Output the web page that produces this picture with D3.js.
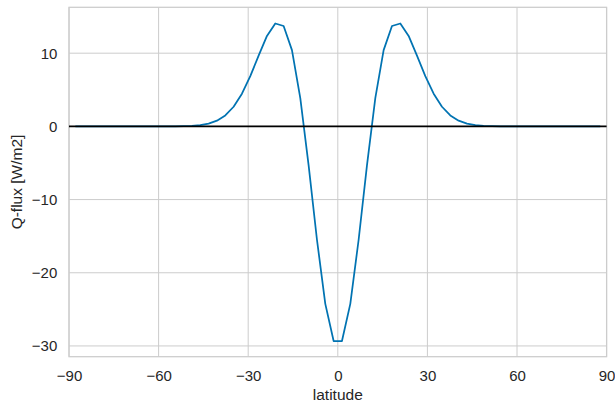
<!DOCTYPE html>
<html>
<head>
<meta charset="utf-8">
<script src="https://cdn.jsdelivr.net/npm/d3@7"></script>
<style>
  body { margin: 0; background: #fff; }
  svg text { font-family: "Liberation Sans", Arial, sans-serif; fill: #262626; }
</style>
</head>
<body>
<svg id="chart" width="615" height="407"></svg>
<script>
// gaussian latitudes (T42), south to north
var latitudes = [
  -87.8638, -85.0965, -82.3129, -79.5256, -76.7369, -73.9475, -71.1578, -68.3678,
  -65.5776, -62.7874, -59.9970, -57.2066, -54.4162, -51.6257, -48.8352, -46.0447,
  -43.2542, -40.4636, -37.6731, -34.8825, -32.0919, -29.3014, -26.5108, -23.7202,
  -20.9296, -18.1390, -15.3484, -12.5578, -9.7671, -6.9765, -4.1859, -1.3953,
  1.3953, 4.1859, 6.9765, 9.7671, 12.5578, 15.3484, 18.1390, 20.9296,
  23.7202, 26.5108, 29.3014, 32.0919, 34.8825, 37.6731, 40.4636, 43.2542,
  46.0447, 48.8352, 51.6257, 54.4162, 57.2066, 59.9970, 62.7874, 65.5776,
  68.3678, 71.1578, 73.9475, 76.7369, 79.5256, 82.3129, 85.0965, 87.8638
];

var qflux = [
  0, 0, 0, 0, 0, 0, 0, 0,
  0, 0, 0.00, 0.00, 0.01, 0.03, 0.07, 0.17,
  0.38, 0.78, 1.50, 2.68, 4.46, 6.86, 9.67, 12.36,
  14.06, 13.71, 10.42, 3.85, -5.34, -15.49, -24.25, -29.33,
  -29.33, -24.25, -15.49, -5.34, 3.85, 10.42, 13.71, 14.06,
  12.36, 9.67, 6.86, 4.46, 2.68, 1.50, 0.78, 0.38,
  0.17, 0.07, 0.03, 0.01, 0.00, 0.00, 0, 0,
  0, 0, 0, 0, 0, 0, 0, 0
];

var xTicks = [-90, -60, -30, 0, 30, 60, 90];
var yTicks = [-30, -20, -10, 0, 10];
var xDomain = [-90, 90];
var yDomain = [-31.47, 16.27];

var svg = d3.select("#chart");
var plotL = 69, plotR = 606.6, plotT = 7.3, plotB = 356.7;

var x = d3.scaleLinear().domain(xDomain).range([plotL, plotR]);
var y = d3.scaleLinear().domain(yDomain).range([plotB, plotT]);

// grid
svg.append("g").selectAll("line").data(xTicks).enter().append("line")
    .attr("x1", function(d) { return x(d); }).attr("x2", function(d) { return x(d); })
    .attr("y1", plotT).attr("y2", plotB)
    .attr("stroke", "#cccccc").attr("stroke-width", 1);
svg.append("g").selectAll("line").data(yTicks).enter().append("line")
    .attr("x1", plotL).attr("x2", plotR)
    .attr("y1", function(d) { return y(d); }).attr("y2", function(d) { return y(d); })
    .attr("stroke", "#cccccc").attr("stroke-width", 1);

// frame
svg.append("rect")
    .attr("x", plotL).attr("y", plotT)
    .attr("width", plotR - plotL).attr("height", plotB - plotT)
    .attr("fill", "none").attr("stroke", "#cccccc").attr("stroke-width", 1.25);

// axes (labels only)
var xAxis = d3.axisBottom(x).tickValues(xTicks).tickSize(0).tickPadding(13.5)
    .tickFormat(d3.format("d"));
var gx = svg.append("g").attr("transform", "translate(0," + plotB + ")").call(xAxis);
gx.select(".domain").remove();
gx.selectAll("text").attr("font-size", 15).style("fill", "#262626")
    .attr("font-family", "Liberation Sans, Arial, sans-serif");

var yAxis = d3.axisLeft(y).tickValues(yTicks).tickSize(0).tickPadding(11.7)
    .tickFormat(d3.format("d"));
var gy = svg.append("g").attr("transform", "translate(" + plotL + ",0)").call(yAxis);
gy.select(".domain").remove();
gy.selectAll("text").attr("font-size", 15).style("fill", "#262626")
    .attr("font-family", "Liberation Sans, Arial, sans-serif");

// series
var line = d3.line()
    .x(function(d, i) { return x(latitudes[i]); })
    .y(function(d) { return y(d); });

svg.append("path").datum(qflux)
    .attr("d", line)
    .attr("fill", "none")
    .attr("stroke", "#0173b2")
    .attr("stroke-width", 1.75)
    .attr("stroke-linejoin", "round");

// zero line
svg.append("line")
    .attr("x1", x(-90)).attr("x2", x(90))
    .attr("y1", y(0)).attr("y2", y(0))
    .attr("stroke", "#000").attr("stroke-width", 1.75);

// axis titles
svg.append("text")
    .attr("x", (plotL + plotR) / 2).attr("y", 400)
    .attr("text-anchor", "middle").attr("font-size", 15.5)
    .text("latitude");

svg.append("text")
    .attr("transform", "translate(22," + ((plotT + plotB) / 2) + ") rotate(-90)")
    .attr("text-anchor", "middle").attr("font-size", 15.5)
    .text("Q-flux [W/m2]");
</script>
</body>
</html>
